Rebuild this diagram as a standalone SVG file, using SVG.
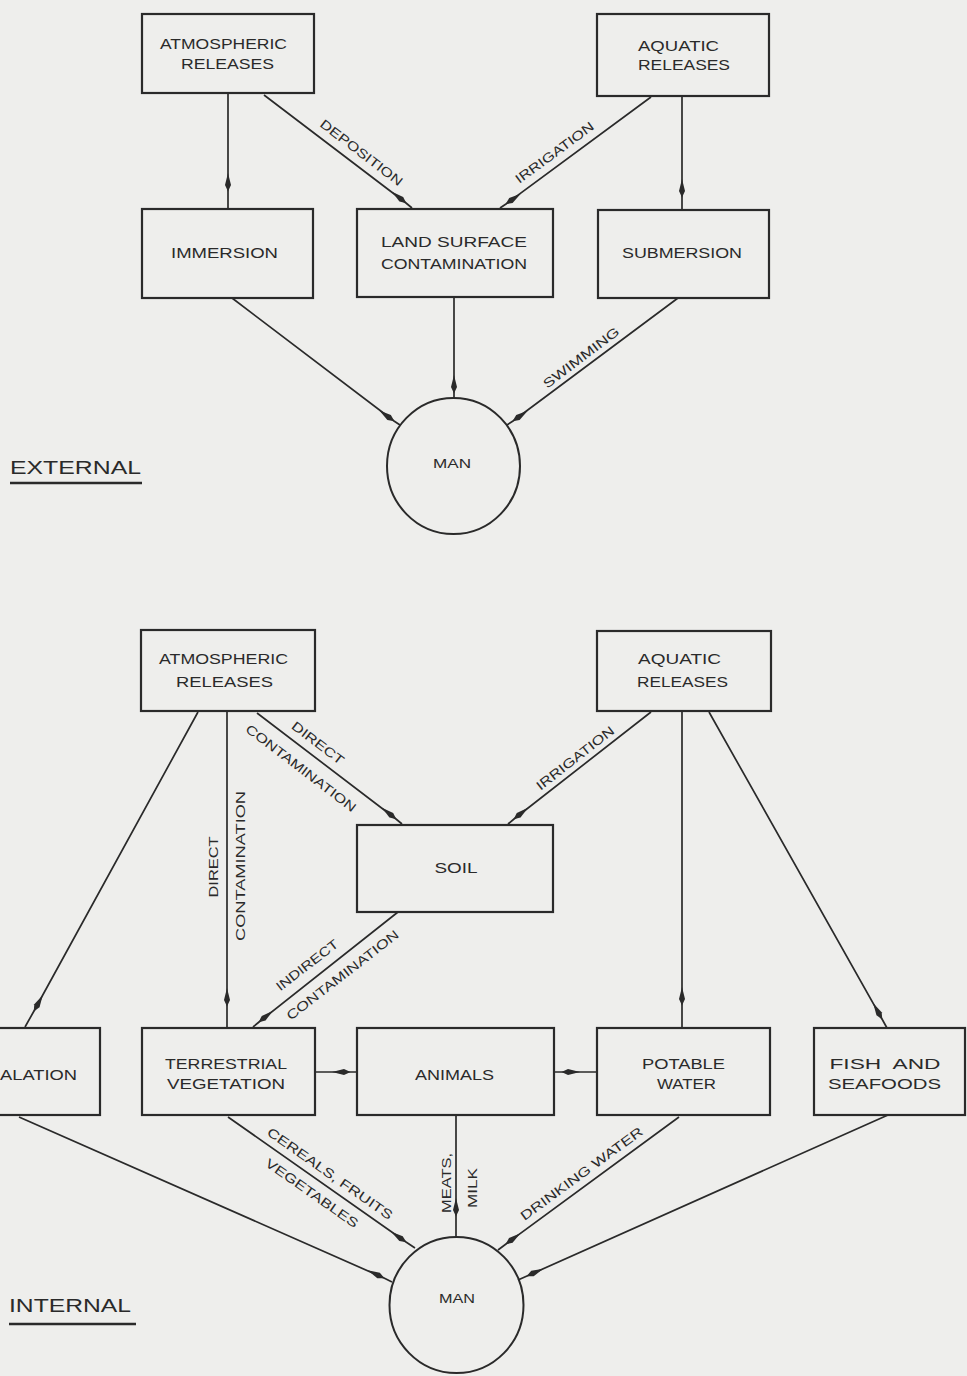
<svg xmlns="http://www.w3.org/2000/svg" width="967" height="1376" viewBox="0 0 967 1376">
<style>
.bg{fill:#eeeeec}
.box{fill:none;stroke:#2a2a2a;stroke-width:2.2}
.circ{fill:none;stroke:#2a2a2a;stroke-width:2}
.con{fill:none;stroke:#2a2a2a;stroke-width:1.7;marker-mid:url(#arr)}
.t{font-family:"Liberation Sans",Arial,sans-serif;font-size:15px;fill:#2a2a2a;text-anchor:middle}
.l{font-family:"Liberation Sans",Arial,sans-serif;font-size:13px;fill:#2a2a2a;text-anchor:middle}
.h{font-family:"Liberation Sans",Arial,sans-serif;font-size:19px;fill:#2a2a2a}
.ul{stroke:#2a2a2a;stroke-width:2.6}
</style>
<defs>
<marker id="arr" markerUnits="userSpaceOnUse" markerWidth="22" markerHeight="10" viewBox="-20 -5 22 10" refX="0" refY="0" orient="auto">
<path d="M0.5,0 L-6,-3 L-18,0 L-6,3 Z" fill="#2a2a2a"/>
</marker>
</defs>
<rect class="bg" x="0" y="0" width="967" height="1376"/>

<g id="connectors">
<path class="con" d="M228,93 L228,191 L228,209"/>
<path class="con" d="M264,95 L406,203 L412,208"/>
<path class="con" d="M651,97 L506,204 L500,208"/>
<path class="con" d="M682,96 L682,197 L682,210"/>
<path class="con" d="M232,298 L394,421 L400,425"/>
<path class="con" d="M454,298 L454,393 L454,398"/>
<path class="con" d="M678,298 L513,421 L507,425"/>

<path class="con" d="M198,712 L34,1011 L25,1027"/>
<path class="con" d="M227,711 L227,1006 L227,1028"/>
<path class="con" d="M257,713 L396,819 L402,824"/>
<path class="con" d="M651,712 L514,819 L508,824"/>
<path class="con" d="M682,711 L682,1005 L682,1028"/>
<path class="con" d="M709,712 L882,1019 L887,1028"/>
<path class="con" d="M398,912 L259,1022 L253,1027"/>
<path class="con" d="M315,1072 L350,1072 L357,1072"/>
<path class="con" d="M597,1072 L562,1072 L554,1072"/>
<path class="con" d="M19,1117 L384,1278 L392,1282"/>
<path class="con" d="M228,1117 L406,1242 L415,1248"/>
<path class="con" d="M456,1115 L456,1216 L456,1237"/>
<path class="con" d="M679,1117 L506,1244 L498,1250"/>
<path class="con" d="M888,1115 L527,1276 L518,1280"/>

<text class="l" transform="translate(361.5,152.5) rotate(37.4)" y="4.6" textLength="100" lengthAdjust="spacingAndGlyphs">DEPOSITION</text>
<text class="l" transform="translate(554.5,152.5) rotate(-36.3)" y="4.6" textLength="94" lengthAdjust="spacingAndGlyphs">IRRIGATION</text>
<text class="l" transform="translate(581,357.5) rotate(-37.3)" y="4.6" textLength="92" lengthAdjust="spacingAndGlyphs">SWIMMING</text>

<text class="l" transform="translate(318,743) rotate(37.4)" y="4.6" textLength="62" lengthAdjust="spacingAndGlyphs">DIRECT</text>
<text class="l" transform="translate(301,768) rotate(37.4)" y="4.6" textLength="135" lengthAdjust="spacingAndGlyphs">CONTAMINATION</text>
<text class="l" transform="translate(575,758) rotate(-38)" y="4.6" textLength="95" lengthAdjust="spacingAndGlyphs">IRRIGATION</text>
<text class="l" transform="translate(213,867) rotate(-90)" y="4.6" textLength="61" lengthAdjust="spacingAndGlyphs">DIRECT</text>
<text class="l" transform="translate(240,866) rotate(-90)" y="4.6" textLength="150" lengthAdjust="spacingAndGlyphs">CONTAMINATION</text>
<text class="l" transform="translate(307,965) rotate(-37.7)" y="4.6" textLength="75" lengthAdjust="spacingAndGlyphs">INDIRECT</text>
<text class="l" transform="translate(342.5,975) rotate(-37.7)" y="4.6" textLength="138" lengthAdjust="spacingAndGlyphs">CONTAMINATION</text>
<text class="l" transform="translate(330,1173.5) rotate(35)" y="4.6" textLength="150" lengthAdjust="spacingAndGlyphs">CEREALS, FRUITS</text>
<text class="l" transform="translate(312,1193) rotate(35)" y="4.6" textLength="110" lengthAdjust="spacingAndGlyphs">VEGETABLES</text>
<text class="l" transform="translate(446,1183) rotate(-90)" y="4.6" textLength="60" lengthAdjust="spacingAndGlyphs">MEATS,</text>
<text class="l" transform="translate(472,1188) rotate(-90)" y="4.6" textLength="40" lengthAdjust="spacingAndGlyphs">MILK</text>
<text class="l" transform="translate(581.5,1173.5) rotate(-36.3)" y="4.6" textLength="148" lengthAdjust="spacingAndGlyphs">DRINKING WATER</text>
</g>

<g id="ext-atmos">
<rect class="box" x="142" y="14" width="172" height="79"/>
<text class="t" x="223.5" y="48.5" textLength="127" lengthAdjust="spacingAndGlyphs">ATMOSPHERIC</text>
<text class="t" x="227.5" y="68.5" textLength="93" lengthAdjust="spacingAndGlyphs">RELEASES</text>
</g>
<g id="ext-aquatic">
<rect class="box" x="597" y="14" width="172" height="82"/>
<text class="t" x="678.5" y="50.5" textLength="81" lengthAdjust="spacingAndGlyphs">AQUATIC</text>
<text class="t" x="684" y="69.5" textLength="92" lengthAdjust="spacingAndGlyphs">RELEASES</text>
</g>
<g id="immersion">
<rect class="box" x="142" y="209" width="171" height="89"/>
<text class="t" x="224.5" y="257.5" textLength="107" lengthAdjust="spacingAndGlyphs">IMMERSION</text>
</g>
<g id="land-surface">
<rect class="box" x="357" y="209" width="196" height="88"/>
<text class="t" x="454" y="246.5" textLength="146" lengthAdjust="spacingAndGlyphs">LAND SURFACE</text>
<text class="t" x="454" y="268.5" textLength="146" lengthAdjust="spacingAndGlyphs">CONTAMINATION</text>
</g>
<g id="submersion">
<rect class="box" x="598" y="210" width="171" height="88"/>
<text class="t" x="682" y="257.5" textLength="120" lengthAdjust="spacingAndGlyphs">SUBMERSION</text>
</g>
<g id="man-external">
<ellipse class="circ" cx="453.5" cy="466" rx="66.5" ry="68"/>
<text class="l" x="452" y="468" textLength="38" lengthAdjust="spacingAndGlyphs">MAN</text>
</g>
<g id="label-external">
<text class="h" x="10" y="474" textLength="131" lengthAdjust="spacingAndGlyphs">EXTERNAL</text>
<line class="ul" x1="10" y1="483" x2="142" y2="483"/>
</g>

<g id="int-atmos">
<rect class="box" x="141" y="630" width="174" height="81"/>
<text class="t" x="223.5" y="663.5" textLength="129" lengthAdjust="spacingAndGlyphs">ATMOSPHERIC</text>
<text class="t" x="224.5" y="686.5" textLength="97" lengthAdjust="spacingAndGlyphs">RELEASES</text>
</g>
<g id="int-aquatic">
<rect class="box" x="597" y="631" width="174" height="80"/>
<text class="t" x="679.5" y="663.5" textLength="83" lengthAdjust="spacingAndGlyphs">AQUATIC</text>
<text class="t" x="682.5" y="686.5" textLength="91" lengthAdjust="spacingAndGlyphs">RELEASES</text>
</g>
<g id="soil">
<rect class="box" x="357" y="825" width="196" height="87"/>
<text class="t" x="456" y="872.5" textLength="43" lengthAdjust="spacingAndGlyphs">SOIL</text>
</g>
<g id="inhalation">
<rect class="box" x="-20" y="1028" width="120" height="87"/>
<text class="t" x="0" y="1079.5" style="text-anchor:start" textLength="77" lengthAdjust="spacingAndGlyphs">ALATION</text>
</g>
<g id="terrestrial">
<rect class="box" x="142" y="1028" width="173" height="87"/>
<text class="t" x="226" y="1068.5" textLength="122" lengthAdjust="spacingAndGlyphs">TERRESTRIAL</text>
<text class="t" x="226" y="1088.5" textLength="118" lengthAdjust="spacingAndGlyphs">VEGETATION</text>
</g>
<g id="animals">
<rect class="box" x="357" y="1028" width="197" height="87"/>
<text class="t" x="454.5" y="1079.5" textLength="79" lengthAdjust="spacingAndGlyphs">ANIMALS</text>
</g>
<g id="potable">
<rect class="box" x="597" y="1028" width="173" height="87"/>
<text class="t" x="683.5" y="1068.5" textLength="83" lengthAdjust="spacingAndGlyphs">POTABLE</text>
<text class="t" x="686.5" y="1088.5" textLength="59" lengthAdjust="spacingAndGlyphs">WATER</text>
</g>
<g id="fish">
<rect class="box" x="814" y="1028" width="151" height="87"/>
<text class="t" x="885" y="1068.5" textLength="111" lengthAdjust="spacingAndGlyphs" xml:space="preserve">FISH  AND</text>
<text class="t" x="884.5" y="1088.5" textLength="113" lengthAdjust="spacingAndGlyphs">SEAFOODS</text>
</g>
<g id="man-internal">
<ellipse class="circ" cx="456.5" cy="1305" rx="67" ry="68"/>
<text class="l" x="457" y="1303" textLength="36" lengthAdjust="spacingAndGlyphs">MAN</text>
</g>
<g id="label-internal">
<text class="h" x="9" y="1312" textLength="122" lengthAdjust="spacingAndGlyphs">INTERNAL</text>
<line class="ul" x1="9" y1="1324" x2="136" y2="1324"/>
</g>
</svg>
